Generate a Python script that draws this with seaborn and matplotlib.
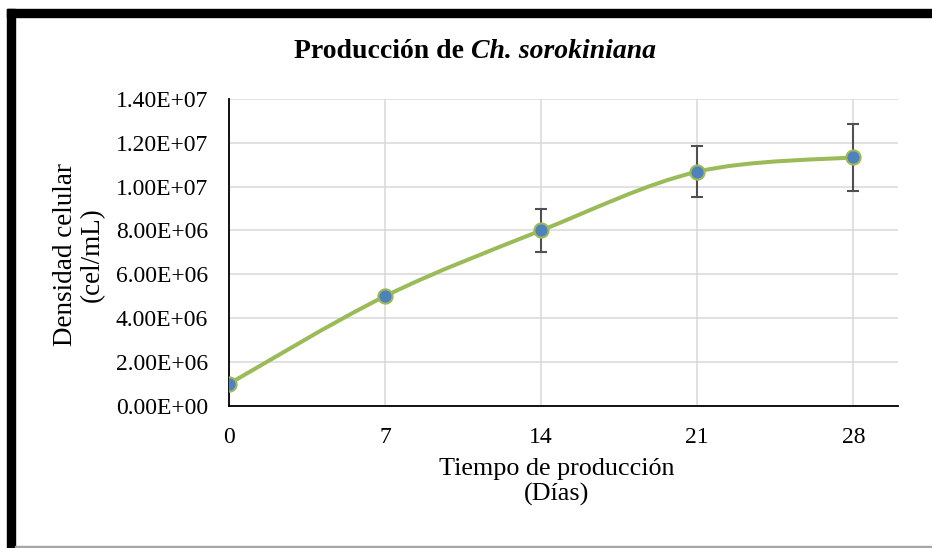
import matplotlib
matplotlib.use("Agg")
import matplotlib.pyplot as plt
import seaborn as sns
import numpy as np
import pandas as pd
from matplotlib.path import Path
from matplotlib.patches import PathPatch, Rectangle
from matplotlib.ticker import FuncFormatter

# data
dias = [0, 7, 14, 21, 28]
densidad = [1.0e6, 5.0e6, 8.0e6, 1.068e7, 1.134e7]
error = [0, 0, 1.0e6, 1.17e6, 1.52e6]

verde = "#9BBB59"
azul = "#4F81BD"

sns.set_theme(style="whitegrid")
plt.rcParams["font.family"] = ["Liberation Serif", "DejaVu Serif"]
plt.rcParams["text.color"] = "black"
plt.rcParams["xtick.color"] = "black"
plt.rcParams["ytick.color"] = "black"

fig = plt.figure(figsize=(9.32, 5.48), dpi=100)
ax = fig.add_axes([229 / 932, 1 - 405.7 / 548, 669 / 932, 306.7 / 548])

df = pd.DataFrame({"dias": dias, "densidad": densidad, "error": error})

# smoothed line (excel style bezier through the points)
pts = np.column_stack([df["dias"], df["densidad"]]).astype(float)
verts = [pts[0]]
codes = [Path.MOVETO]
n = len(pts)
for i in range(n - 1):
    p_prev = pts[i - 1] if i > 0 else pts[i]
    p_next2 = pts[i + 2] if i + 2 < n else pts[i + 1]
    c1 = pts[i] + (pts[i + 1] - p_prev) / 6
    c2 = pts[i + 1] - (p_next2 - pts[i]) / 6
    verts += [c1, c2, pts[i + 1]]
    codes += [Path.CURVE4] * 3
ax.add_patch(PathPatch(Path(verts, codes), facecolor="none", edgecolor=verde,
                       lw=2.9, zorder=3, capstyle="round"))

# error bars only where present
eb = df[df["error"] > 0]
ax.errorbar(eb["dias"], eb["densidad"], yerr=eb["error"], fmt="none",
            ecolor="#505050", elinewidth=1.5, capsize=4.5, capthick=1.5, zorder=4)

sns.scatterplot(data=df, x="dias", y="densidad", ax=ax, s=105, color=azul,
                edgecolor=verde, linewidth=1.5, zorder=5, legend=False)

ax.set_xlim(0, 30)
ax.set_ylim(0, 1.4e7)
ax.set_xticks(dias)
ax.set_yticks(np.arange(0, 1.41e7, 2e6))
ax.yaxis.set_major_formatter(FuncFormatter(lambda v, p: f"{v:.2E}"))
ax.tick_params(axis="both", length=0, labelsize=17, pad=15, colors="black")
ax.set_xlabel("")
ax.set_ylabel("")
ax.grid(True, color="#d9d9d9", lw=1.1)
ax.set_facecolor("white")
for s in ["top", "right"]:
    ax.spines[s].set_visible(False)
for s in ["left", "bottom"]:
    ax.spines[s].set_color("black")
    ax.spines[s].set_linewidth(1.3)
    ax.spines[s].set_zorder(2.5)

# axis titles
fig.text(557 / 932, 1 - 482 / 548, "Tiempo de producción\n(Días)", ha="center",
         va="center", fontsize=18.8, linespacing=1.12, multialignment="center")
fig.text(79 / 932, 1 - 255 / 548, "Densidad celular\n(cel/mL)", ha="center",
         va="center", rotation=90, fontsize=19.5, linespacing=1.1,
         multialignment="center")

# title with italic species name
t1 = fig.text(0, 1 - 58.3 / 548, "Producción de", fontsize=20, fontweight="bold",
              va="baseline", ha="left")
t2 = fig.text(0, 1 - 58.3 / 548, "Ch. sorokiniana", fontsize=20, fontweight="bold",
              fontstyle="italic", va="baseline", ha="left")
fig.canvas.draw()
r = fig.canvas.get_renderer()
w1 = t1.get_window_extent(r).width
w2 = t2.get_window_extent(r).width
gap = 0.25 * 20 * 100 / 72
x0 = 475 - (w1 + gap + w2) / 2
t1.set_x(x0 / 932)
t2.set_x((x0 + w1 + gap) / 932)

# frame around the chart
fig.patches.append(Rectangle((7 / 932, 1 - 17 / 548), 1, 8 / 548, transform=fig.transFigure,
                             color="black", zorder=10))
fig.patches.append(Rectangle((7 / 932, 0), 8 / 932, 1 - 9 / 548, transform=fig.transFigure,
                             color="black", zorder=10))
fig.patches.append(Rectangle((15 / 932, 1 / 548), 1, 1.2 / 548, transform=fig.transFigure,
                             color="#a6a6a6", zorder=10))

fig.savefig("out.png", dpi=100)
